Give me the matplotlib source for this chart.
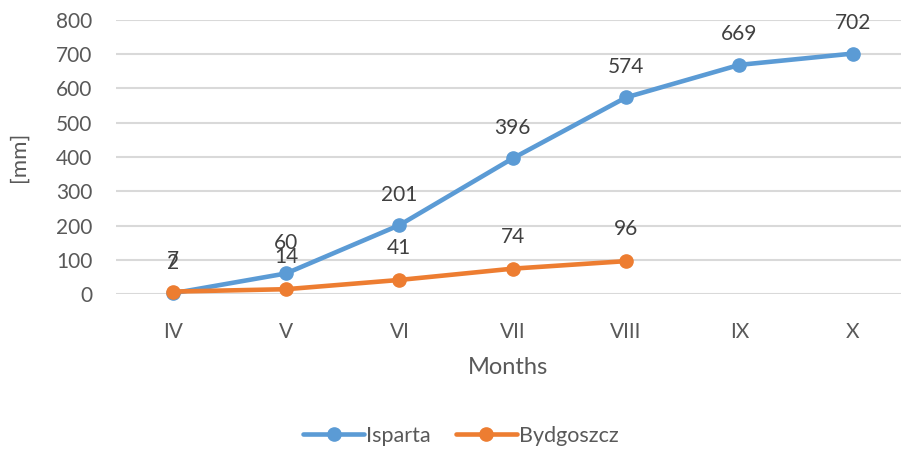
import numpy as np
import matplotlib
matplotlib.use("Agg")
from matplotlib import pyplot as plt

months = ["IV", "V", "VI", "VII", "VIII", "IX", "X"]
isparta = [2, 60, 201, 396, 574, 669, 702]
bydgoszcz = [7, 14, 41, 74, 96]

plt.rcParams["font.family"] = ["Lato", "DejaVu Sans"]

blue = "#5B9BD5"
orange = "#ED7D31"
grid_col = "#D9D9D9"
tick_col = "#595959"
label_col = "#404040"

fig = plt.figure(figsize=(9.01, 4.5), dpi=100)
ax = fig.add_axes([116 / 901, 1 - 294 / 450, 1 - 116 / 901, 274 / 450])

x_isp = np.arange(len(isparta))
x_byd = np.arange(len(bydgoszcz))
ax.plot(x_isp, isparta, color=blue, lw=3.3, marker="o", ms=9.5, label="Isparta",
        solid_capstyle="round", clip_on=False, zorder=3)
ax.plot(x_byd, bydgoszcz, color=orange, lw=3.3, marker="o", ms=9.5, label="Bydgoszcz",
        solid_capstyle="round", clip_on=False, zorder=4)

for xi, v in zip(x_isp, isparta):
    ax.annotate(str(v), (xi, v), xytext=(0, 22), textcoords="offset points",
                ha="center", va="center", fontsize=15, color=label_col)
for xi, v in zip(x_byd, bydgoszcz):
    ax.annotate(str(v), (xi, v), xytext=(0, 23), textcoords="offset points",
                ha="center", va="center", fontsize=15, color=label_col)

ax.set_xlim(-0.5, (901 - 173) / 113.3)
ax.set_ylim(0, 800)
ax.set_yticks(np.arange(0, 801, 100))
ax.set_xticks(np.arange(len(months)))
ax.set_xticklabels(months)
ax.yaxis.grid(True, color=grid_col, lw=1.5)
ax.set_axisbelow(True)
for s in ax.spines.values():
    s.set_visible(False)
ax.tick_params(axis="both", length=0, colors=tick_col, labelsize=15)
ax.tick_params(axis="x", pad=20)
ax.tick_params(axis="y", pad=17)

ax.set_xlabel("Months", fontsize=17, color=tick_col, labelpad=11)
ax.set_ylabel("[mm]", fontsize=16, color=tick_col, labelpad=20)

fig.legend(loc="center", bbox_to_anchor=(461 / 901, 1 - 436 / 450), ncol=2,
           frameon=False, fontsize=15.5, labelcolor=tick_col, handlelength=2.8,
           columnspacing=1.2, handletextpad=0.1)

fig.savefig("out.png", dpi=100)
